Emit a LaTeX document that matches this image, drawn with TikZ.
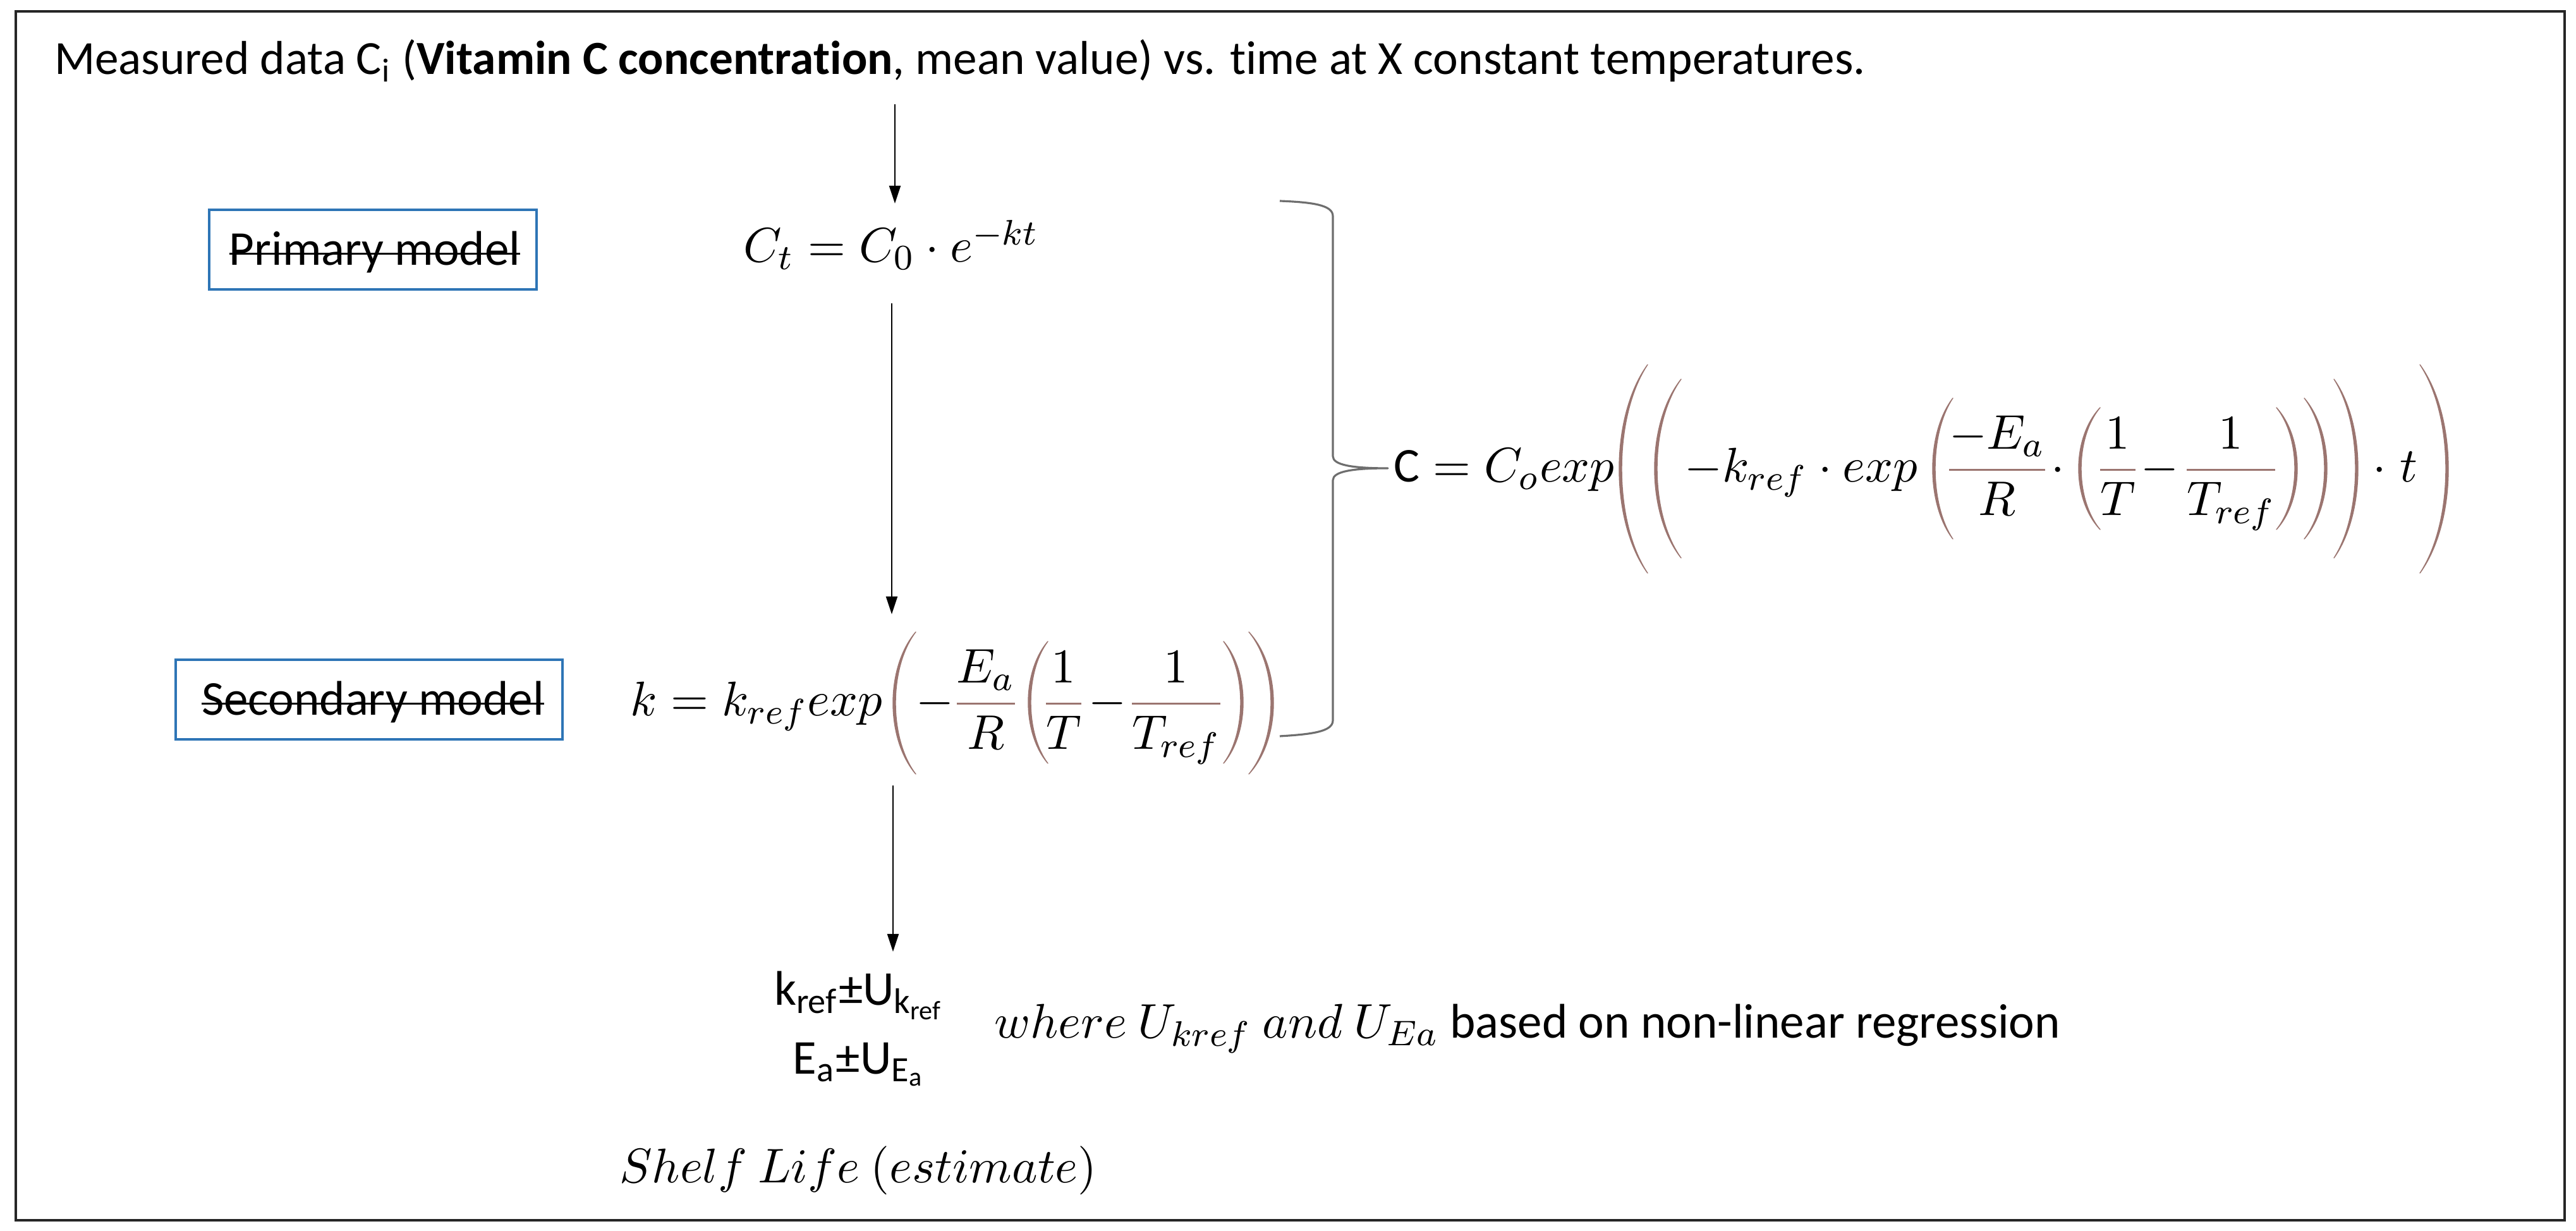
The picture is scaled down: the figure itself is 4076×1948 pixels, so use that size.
\documentclass[tikz,border=0pt,11pt]{standalone}
\usepackage{fontspec}
\setmainfont{Carlito}[Ligatures=NoCommon]
\usepackage{amsmath}
\usetikzlibrary{arrows.meta}
\definecolor{parcol}{RGB}{155,117,112}
\definecolor{boxblue}{RGB}{46,117,182}
\definecolor{bracegray}{RGB}{110,110,110}
% left parenthesis: #1 bulge x, #2 end x, #3 top y, #4 bottom y
\newcommand\LPar[4]{%
  \fill[parcol, draw=parcol, line width=0.2pt, line join=round]
   (#2,#3) .. controls ({#1-(#2-#1)/3},{#3+0.25*(#4-#3)}) and ({#1-(#2-#1)/3},{#4-0.25*(#4-#3)}) .. (#2,#4)
   .. controls ({#1+4-(#2-#1-4)/3},{#4-0.25*(#4-#3)}) and ({#1+4-(#2-#1-4)/3},{#3+0.25*(#4-#3)}) .. (#2,#3) -- cycle;}
% right parenthesis: #1 bulge x, #2 end x, #3 top y, #4 bottom y
\newcommand\RPar[4]{%
  \fill[parcol, draw=parcol, line width=0.2pt, line join=round]
   (#2,#3) .. controls ({#1+(#1-#2)/3},{#3+0.25*(#4-#3)}) and ({#1+(#1-#2)/3},{#4-0.25*(#4-#3)}) .. (#2,#4)
   .. controls ({#1-4+(#1-4-#2)/3},{#4-0.25*(#4-#3)}) and ({#1-4+(#1-4-#2)/3},{#3+0.25*(#4-#3)}) .. (#2,#3) -- cycle;}
\newcommand\cfr[2]{{\color{parcol}\dfrac{\color{black}#1}{\color{black}#2}}}
\begin{document}
\begin{tikzpicture}[x=0.05mm,y=-0.05mm,
  txt/.style={inner sep=0pt, outer sep=0pt},
  modelbox/.style={draw=boxblue, line width=0.45pt, inner sep=0pt, minimum height=6.3mm},
  strike/.style={line width=0.45pt, black},
  arr/.style={-{Triangle[length=1.4mm,width=0.9mm]}, line width=0.3pt, black}]
\useasboundingbox (0,0) rectangle (4076,1948);
\draw[line width=0.5pt, black!85] (25,18) rectangle (4058,1931);

% title
\node[txt, anchor=base west, font=\fontsize{10.7pt}{13pt}\selectfont] (title) at (86,118) {Measured data C\textsubscript{i} (\textbf{Vitamin C concentration}, mean value) vs. time at X constant temperatures.};

% model boxes
\node[modelbox, minimum width=25.9mm] (prim) at (590,395) {};
\node[txt, anchor=base] (primt) at (593,420) {Primary model};
\draw[strike] ([yshift=2.6pt]primt.base west) -- ([yshift=2.6pt]primt.base east);
\node[modelbox, minimum width=30.6mm] (sec) at (584,1107) {};
\node[txt, anchor=base] (sect) at (590,1132) {Secondary model};
\draw[strike] ([yshift=2.6pt]sect.base west) -- ([yshift=2.6pt]sect.base east);

% primary equation
\node[txt, anchor=base] (eq1) at (1410,415) {$C_t = C_0\cdot e^{-kt}$};

% secondary equation
\node[txt, anchor=base] (eq2a) at (1197,1133) {$k = k_{ref}exp$};
\LPar{1413}{1449}{1000}{1225}
\node[txt, anchor=base] (eq2b) at (1479,1133) {$-$};
\node[txt, anchor=base] (eq2c) at (1560,1133) {$\cfr{E_a}{R}$};
\LPar{1627}{1658}{1015}{1208}
\node[txt, anchor=base] (eq2d) at (1683,1133) {$\cfr{1}{T}$};
\node[txt, anchor=base] (eq2e) at (1752,1133) {$-$};
\node[txt, anchor=base] (eq2f) at (1861,1133) {$\cfr{1}{T_{ref}}$};
\RPar{1967}{1936}{1015}{1208}
\RPar{2015}{1976}{1000}{1225}

% combined equation
\node[txt, anchor=base west] (eq3a) at (2205,763) {$\text{C} = C_o exp$};
\LPar{2562}{2607}{577}{907}
\LPar{2618}{2660}{600}{883}
\node[txt, anchor=base] (eq3b) at (2850,763) {$-k_{ref}\cdot exp$};
\LPar{3058}{3090}{630}{853}
\node[txt, anchor=base] (eq3c) at (3160,763) {$\cfr{-E_a}{R}$};
\node[txt, anchor=base] (eq3d) at (3256,763) {$\cdot$};
\LPar{3289}{3323}{645}{838}
\node[txt, anchor=base] (eq3e) at (3351,763) {$\cfr{1}{T}$};
\node[txt, anchor=base] (eq3f) at (3417,763) {$-$};
\node[txt, anchor=base] (eq3g) at (3530,763) {$\cfr{1}{T_{ref}}$};
\RPar{3635}{3602}{645}{838}
\RPar{3682}{3646}{630}{853}
\RPar{3731}{3693}{600}{883}
\node[txt, anchor=base] (eq3h) at (3790,763) {$\cdot\; t$};
\RPar{3874}{3829}{577}{907}

% brace
\draw[bracegray, line width=0.45pt, line join=round]
  (2025,318) .. controls (2075,320) and (2109,324) .. (2109,342) -- (2109,722)
  .. controls (2109,736) and (2140,741) .. (2196,741)
  .. controls (2140,741) and (2109,746) .. (2109,760) -- (2109,1140)
  .. controls (2109,1158) and (2075,1162) .. (2025,1165);

% results
\node[txt, anchor=base] (kref) at (1360,1591) {k\textsubscript{ref}±U\textsubscript{k\textsubscript{ref}}};
\node[txt, anchor=base] (ea) at (1360,1700) {E\textsubscript{a}±U\textsubscript{E\textsubscript{a}}};
\node[txt, anchor=base west] (where) at (1573,1643) {$where\ U_{kref}\ and\ U_{Ea}$ based on non-linear regression};
\node[txt, anchor=base] (shelf) at (1358,1872) {$Shelf\ Life\ (estimate)$};

% arrows
\coordinate (a1s) at (1416,165);
\coordinate (a1e) at (1416,322);
\coordinate (a2s) at (1411,480);
\coordinate (a2e) at (1411,972);
\coordinate (a3s) at (1413,1243);
\coordinate (a3e) at (1413,1506);
\draw[arr] (a1s) -- (a1e);
\draw[arr] (a2s) -- (a2e);
\draw[arr] (a3s) -- (a3e);
\end{tikzpicture}
\end{document}
